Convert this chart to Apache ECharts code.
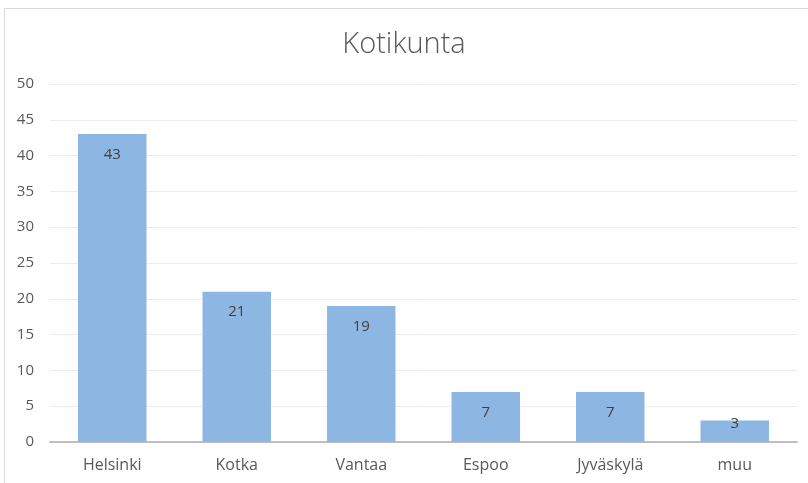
<!DOCTYPE html>
<html><head><meta charset="utf-8">
<style>
html,body{margin:0;padding:0;background:#fff;width:808px;height:483px;overflow:hidden;}
#frame{position:absolute;left:4px;top:8px;width:820px;height:490px;border:1px solid #d9d9d9;box-sizing:border-box;}
#c{position:absolute;left:0;top:0;width:808px;height:483px;}
</style>
<script src="https://cdn.jsdelivr.net/npm/echarts@6/dist/echarts.min.js"></script>
</head><body>
<div id="frame"></div>
<div id="c"></div>
<script>
const title = "Kotikunta";
const categories = ["Helsinki","Kotka","Vantaa","Espoo","Jyväskylä","muu"];
const values = [43,21,19,7,7,3];
const yTicks = {min:0,max:50,interval:5};

const chart = echarts.init(document.getElementById('c'));
chart.setOption({
  animation:false,
  title:{text:title,left:'center',top:25,textStyle:{fontFamily:'Open Sans',fontWeight:300,fontSize:29,color:'#595959'}},
  grid:{left:50,right:11,top:84,bottom:41},
  xAxis:{type:'category',data:categories,
    axisLine:{lineStyle:{color:'#bfbfbf',width:2}},axisTick:{show:false},
    axisLabel:{color:'#595959',fontSize:16,fontFamily:'Open Sans',margin:15}},
  yAxis:{type:'value',min:yTicks.min,max:yTicks.max,interval:yTicks.interval,
    axisLine:{show:false},axisTick:{show:false},
    axisLabel:{color:'#595959',fontSize:15,fontFamily:'Open Sans',margin:16},
    splitLine:{lineStyle:{color:'#ececec',width:1}}},
  series:[{type:'bar',barWidth:'55%',
    data: values.map(v => v < 5 ? {value:v,label:{position:'insideTop',distance:-4}} : v),
    itemStyle:{color:'#8db6e2'},
    label:{show:true,position:'insideTop',distance:13,color:'#404040',fontSize:15,fontFamily:'Open Sans'}}]
});
</script>
</body></html>
